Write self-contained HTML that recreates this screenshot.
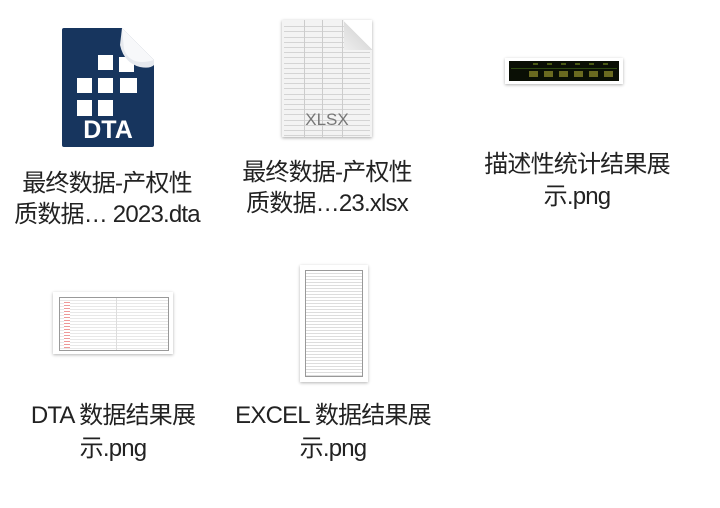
<!DOCTYPE html>
<html><head><meta charset="utf-8"><style>
body{margin:0;width:720px;height:508px;background:#fff;position:relative;overflow:hidden;font-family:"Liberation Sans","Noto Sans CJK SC",sans-serif;color:#222}
.t{position:absolute;width:240px;text-align:center;font-size:24px;line-height:31px;white-space:nowrap;letter-spacing:-0.8px}
.rows div{height:4.2px;border-bottom:1px solid #d4d4d4}
</style></head><body>
<!-- DTA icon -->
<svg style="position:absolute;left:60px;top:27px" width="96" height="122" viewBox="0 0 96 122">
<path d="M4 1 H62 L94 33 V118 Q94 120 92 120 H4 Q2 120 2 118 V3 Q2 1 4 1Z" fill="#17355e"/>
<g fill="#fff">
<rect x="38" y="28" width="15" height="15"/><rect x="59" y="30" width="15" height="15"/>
<rect x="17" y="51" width="15" height="15"/><rect x="38" y="51" width="15" height="15"/><rect x="60" y="51" width="17" height="15"/>
<rect x="17" y="73" width="15" height="16"/><rect x="38" y="73" width="15" height="16"/>
<text x="48" y="111" font-family="Liberation Sans" font-weight="bold" font-size="25" text-anchor="middle">DTA</text></g>
<path d="M62 1 L94 33 V38 Q90 42 80 40 Q64 36 60 18 Z" fill="#e6e9ee"/>
<path d="M62 1 L94 33 Q70 40 64 22 Z" fill="#f7f8fa"/>
</svg>
<!-- XLSX icon -->
<div style="position:absolute;left:282px;top:20px;width:90px;height:117px;background:#f3f3f3;box-shadow:0 1px 3px rgba(0,0,0,.35);overflow:hidden">
<div class="rows" style="padding:2px">
<div></div><div></div><div></div><div></div><div></div><div></div><div></div><div></div><div></div><div></div><div></div><div></div><div></div><div></div><div></div><div></div><div></div><div></div><div></div><div></div><div></div><div></div><div></div><div></div><div></div></div>
<div style="position:absolute;left:22px;top:0;bottom:0;border-left:1px solid #ccc"></div>
<div style="position:absolute;left:40px;top:0;bottom:0;border-left:1px solid #ccc"></div>
<div style="position:absolute;left:60px;top:0;bottom:0;border-left:1px solid #ccc"></div>
<div style="position:absolute;right:0;top:0;width:28px;height:30px;background:linear-gradient(225deg,#fff 50%,#ddd 51%,#eee)"></div>
<div style="position:absolute;left:0;width:90px;top:90px;text-align:center;font-size:17px;color:#777">XLSX</div>
</div>
<!-- stats thumbnail -->
<div style="position:absolute;left:505px;top:58px;width:118px;height:26px;background:#fff;box-shadow:0 1px 3px rgba(0,0,0,.3)">
<div style="position:absolute;left:4px;top:3px;width:110px;height:20px;background:#0a0f05">
<div style="position:absolute;left:2px;right:2px;top:7px;border-top:1px solid #2e4a10"></div>
<div style="position:absolute;left:24px;top:2px;width:84px;height:2px;background:repeating-linear-gradient(90deg,#4a5a15 0 5px,transparent 5px 14px)"></div>
<div style="position:absolute;left:20px;top:10px;width:88px;height:6px;background:repeating-linear-gradient(90deg,#6a6a20 0 9px,transparent 9px 15px)"></div>
</div></div>
<!-- DTA png thumbnail -->
<div style="position:absolute;left:53px;top:292px;width:120px;height:62px;background:#fff;box-shadow:0 1px 3px rgba(0,0,0,.3)">
<div style="position:absolute;left:6px;top:5px;width:108px;height:52px;border:1px solid #999;background:repeating-linear-gradient(#fff 0 2px,#e8e8e8 2px 3px)">
<div style="position:absolute;left:4px;top:4px;width:6px;height:46px;background:repeating-linear-gradient(#e99 0 1px,#fff 1px 3px)"></div>
<div style="position:absolute;left:56px;top:0;bottom:0;border-left:1px solid #ddd"></div></div></div>
<!-- EXCEL png thumbnail -->
<div style="position:absolute;left:300px;top:265px;width:68px;height:117px;background:#fff;box-shadow:0 1px 3px rgba(0,0,0,.3)">
<div style="position:absolute;left:5px;top:5px;width:56px;height:105px;border:1px solid #999;background:repeating-linear-gradient(#fff 0 2px,#ddd 2px 3px)"></div></div>
<!-- labels -->
<div class="t" style="left:-13px;top:168px">最终数据-产权性</div>
<div class="t" style="left:-13px;top:199px">质数据… 2023.dta</div>
<div class="t" style="left:207px;top:157px">最终数据-产权性</div>
<div class="t" style="left:207px;top:188px">质数据…23.xlsx</div>
<div class="t" style="left:457px;top:149px">描述性统计结果展</div>
<div class="t" style="left:457px;top:181px">示.png</div>
<div class="t" style="left:-7px;top:400px">DTA 数据结果展</div>
<div class="t" style="left:-7px;top:433px">示.png</div>
<div class="t" style="left:213px;top:400px">EXCEL 数据结果展</div>
<div class="t" style="left:213px;top:433px">示.png</div>
</body></html>
